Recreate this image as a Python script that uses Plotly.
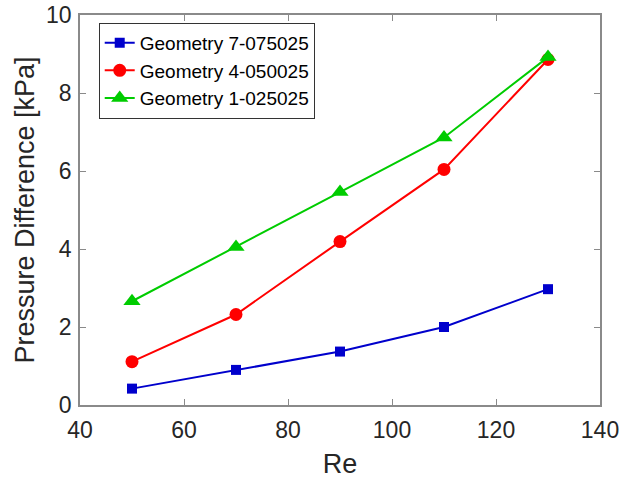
import plotly.graph_objects as go

re_vals = [50, 70, 90, 110, 130]
geom7 = [0.42, 0.90, 1.37, 2.00, 2.97]
geom4 = [1.11, 2.32, 4.19, 6.04, 8.86]
geom1 = [2.66, 4.05, 5.46, 6.86, 8.92]
names = ["Geometry 7-075025", "Geometry 4-050025", "Geometry 1-025025"]
colors = ["#0000CC", "#FF0000", "#00CC00"]
symbols = ["square", "circle", "triangle-up"]
sizes = [10, 13, 15]

fig = go.Figure()
for ys, n, c, s, sz in zip([geom7, geom4, geom1], names, colors, symbols, sizes):
    fig.add_trace(go.Scatter(x=re_vals, y=ys, name=n, mode="lines+markers",
                             line=dict(color=c, width=2),
                             marker=dict(color=c, symbol=s, size=sz)))

axis_common = dict(showgrid=False, zeroline=False, showline=True, mirror="ticks",
                   linecolor="#8a8a8a", linewidth=1.5, ticks="inside", ticklen=6,
                   tickcolor="#8a8a8a", tickfont=dict(size=23, color="#262626"),
                   automargin=False)
fig.update_layout(
    width=623, height=486,
    margin=dict(l=80, r=23, t=15, b=81),
    paper_bgcolor="white", plot_bgcolor="white",
    font=dict(family="Liberation Sans, Arial, sans-serif", color="#262626"),
    xaxis=dict(range=[40, 140], tickvals=[40, 60, 80, 100, 120, 140],
               ticklabelstandoff=4,
               title=dict(text="Re", font=dict(size=27), standoff=12), **axis_common),
    yaxis=dict(range=[0, 10], tickvals=[0, 2, 4, 6, 8, 10],
               ticklabelstandoff=2,
               title=dict(text="Pressure Difference [kPa]", font=dict(size=27), standoff=4), **axis_common),
    legend=dict(x=0.036, y=0.98, xanchor="left", yanchor="top",
                bgcolor="white", bordercolor="#333333", borderwidth=1,
                font=dict(size=19, color="#000000"), tracegroupgap=0, itemwidth=30),
    showlegend=True,
)
fig.write_html("out.html", config={"displayModeBar": False},
               post_script="document.body.style.margin='0';document.body.style.overflow='hidden';")
